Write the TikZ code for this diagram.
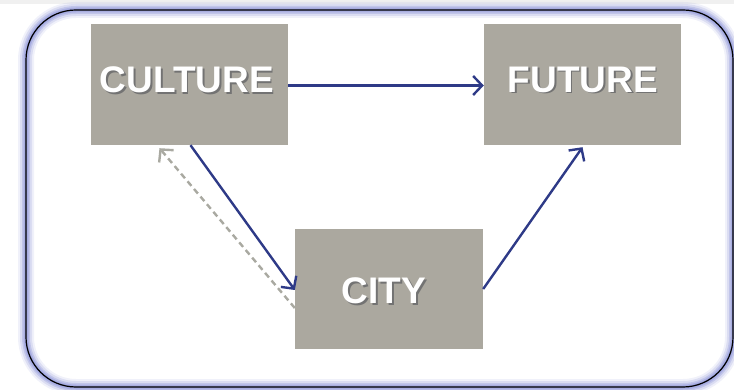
\documentclass[tikz,border=0pt]{standalone}
\usepackage{fontspec}
\setmainfont{Liberation Sans}
\usetikzlibrary{arrows.meta}
\definecolor{boxgray}{HTML}{ABA89F}
\definecolor{navy}{HTML}{2E3A87}
\definecolor{dashgray}{HTML}{A9A9A1}
\definecolor{glow}{HTML}{9AA0DC}
\newcommand\shadowtxt[1]{\leavevmode\rlap{\kern1.6pt\raisebox{-1.6pt}{\color{black!55}#1}}#1}
\tikzset{
  boxnode/.style={fill=boxgray, draw=none, inner sep=0pt},
  lbl/.style={text=white, font=\fontsize{37}{40}\selectfont\bfseries, inner sep=0pt, anchor=center},
  conn/.style={draw=navy, line width=2.4pt, -{Straight Barb[length=9pt,width=19pt,line width=2.4pt]}},
  back/.style={draw=dashgray, line width=2.4pt, dash pattern=on 6pt off 4pt, -{Straight Barb[length=9pt,width=19pt,line width=2.4pt]}}
}
\begin{document}
\begin{tikzpicture}[x=1pt,y=-1pt]
\useasboundingbox (0,0) rectangle (734,390);
\fill[gray!12] (0,0) rectangle (734,4);
% frame with glow
\foreach \w/\o in {16/0.15,12/0.25,8/0.4,5/0.55,2.5/0.75}{
  \draw[glow, line width=\w pt, opacity=\o, rounded corners=50pt] (26,10) rectangle (733,387);
}
\draw[black, line width=1.2pt, rounded corners=50pt] (26,10) rectangle (733,387);
% boxes
\node[boxnode, minimum width=197pt, minimum height=121pt] (culture) at (189.5,84.5) {};
\node[boxnode, minimum width=197pt, minimum height=121pt] (future) at (582.5,84.5) {};
\node[boxnode, minimum width=188pt, minimum height=120pt] (city) at (389,289) {};
% labels
\node[lbl] (tculture) at (187,80.5) {\shadowtxt{CULTURE}};
\node[lbl] (tfuture) at (583,80.5) {\shadowtxt{FUTURE}};
\node[lbl] (tcity) at (384,291.5) {\shadowtxt{CITY}};
% connectors
\coordinate (c1) at ([yshift=-1pt]culture.east);
\coordinate (f1) at ([yshift=-1pt]future.west);
\draw[conn] (c1) -- (f1);
\draw[conn] ([xshift=1pt]culture.south) -- ([yshift=-1pt]city.west);
\draw[conn] (city.east) -- ([yshift=-2pt]future.south);
\draw[back] ([yshift=-19pt]city.west) -- ([xshift=-30pt,yshift=-3pt]culture.south);
\end{tikzpicture}
\end{document}
